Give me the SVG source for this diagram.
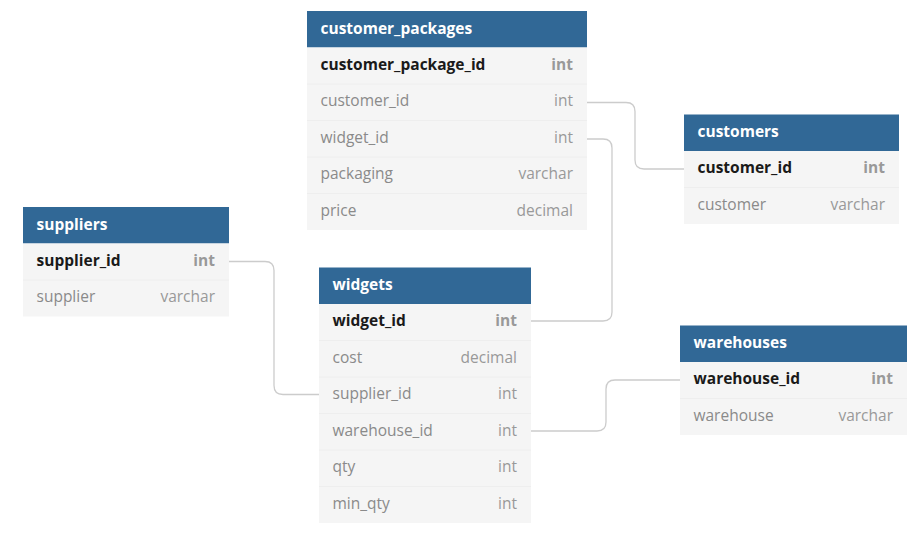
<svg xmlns="http://www.w3.org/2000/svg" width="924" height="536" viewBox="0 0 924 536">
<style>
.hdr{fill:#316896}
.body{fill:#f5f5f5}
.sep{stroke:#eeeeee;stroke-width:1}
.title{font-family:"Open Sans","Liberation Sans",sans-serif;font-size:15.5px;font-weight:bold;fill:#ffffff}
.key{font-family:"Open Sans","Liberation Sans",sans-serif;font-size:15.5px;font-weight:bold;fill:#1a1a1a}
.keyt{font-family:"Open Sans","Liberation Sans",sans-serif;font-size:15.5px;font-weight:bold;fill:#999999;text-anchor:end}
.fld{font-family:"Open Sans","Liberation Sans",sans-serif;font-size:15.5px;fill:#8a8a8a}
.typ{font-family:"Open Sans","Liberation Sans",sans-serif;font-size:15.5px;fill:#999999;text-anchor:end}
.conn{fill:none;stroke:#cccccc;stroke-width:1.3}
</style>
<rect width="924" height="536" fill="#ffffff"/>
<g id="connectors">
<path class="conn" d="M587,102.5 H626 Q635,102.5 635,111.5 V160 Q635,169 644,169 H684"/>
<path class="conn" d="M587,139 H603 Q612,139 612,148 V312 Q612,321 603,321 H531"/>
<path class="conn" d="M229,261.5 H265 Q274,261.5 274,270.5 V385.5 Q274,394.5 283,394.5 H319"/>
<path class="conn" d="M531,431 H597 Q606,431 606,422 V389 Q606,380 615,380 H680"/>
</g>
<g id="customer_packages">
<rect class="hdr" x="307" y="11" width="280" height="36.5"/>
<rect class="body" x="307" y="47.5" width="280" height="182.5"/>
<line class="sep" x1="307" y1="84" x2="587" y2="84"/>
<line class="sep" x1="307" y1="120.5" x2="587" y2="120.5"/>
<line class="sep" x1="307" y1="157" x2="587" y2="157"/>
<line class="sep" x1="307" y1="193.5" x2="587" y2="193.5"/>
<text class="title" x="320.5" y="33.5">customer_packages</text>
<text class="key" x="320.5" y="69.5">customer_package_id</text><text class="keyt" x="573" y="69.5">int</text>
<text class="fld" x="320.5" y="106">customer_id</text><text class="typ" x="573" y="106">int</text>
<text class="fld" x="320.5" y="142.5">widget_id</text><text class="typ" x="573" y="142.5">int</text>
<text class="fld" x="320.5" y="179">packaging</text><text class="typ" x="573" y="179">varchar</text>
<text class="fld" x="320.5" y="215.5">price</text><text class="typ" x="573" y="215.5">decimal</text>
</g>
<g id="customers">
<rect class="hdr" x="684" y="114.5" width="215" height="36.5"/>
<rect class="body" x="684" y="151" width="215" height="73"/>
<line class="sep" x1="684" y1="187.5" x2="899" y2="187.5"/>
<text class="title" x="697.5" y="137">customers</text>
<text class="key" x="697.5" y="173">customer_id</text><text class="keyt" x="885" y="173">int</text>
<text class="fld" x="697.5" y="209.5">customer</text><text class="typ" x="885" y="209.5">varchar</text>
</g>
<g id="suppliers">
<rect class="hdr" x="23" y="207" width="206" height="36.5"/>
<rect class="body" x="23" y="243.5" width="206" height="73"/>
<line class="sep" x1="23" y1="280" x2="229" y2="280"/>
<text class="title" x="36.5" y="229.5">suppliers</text>
<text class="key" x="36.5" y="265.5">supplier_id</text><text class="keyt" x="215" y="265.5">int</text>
<text class="fld" x="36.5" y="302">supplier</text><text class="typ" x="215" y="302">varchar</text>
</g>
<g id="widgets">
<rect class="hdr" x="319" y="267.5" width="212" height="36.5"/>
<rect class="body" x="319" y="304" width="212" height="219"/>
<line class="sep" x1="319" y1="340.5" x2="531" y2="340.5"/>
<line class="sep" x1="319" y1="377" x2="531" y2="377"/>
<line class="sep" x1="319" y1="413.5" x2="531" y2="413.5"/>
<line class="sep" x1="319" y1="450" x2="531" y2="450"/>
<line class="sep" x1="319" y1="486.5" x2="531" y2="486.5"/>
<text class="title" x="332.5" y="290">widgets</text>
<text class="key" x="332.5" y="326">widget_id</text><text class="keyt" x="517" y="326">int</text>
<text class="fld" x="332.5" y="362.5">cost</text><text class="typ" x="517" y="362.5">decimal</text>
<text class="fld" x="332.5" y="399">supplier_id</text><text class="typ" x="517" y="399">int</text>
<text class="fld" x="332.5" y="435.5">warehouse_id</text><text class="typ" x="517" y="435.5">int</text>
<text class="fld" x="332.5" y="472">qty</text><text class="typ" x="517" y="472">int</text>
<text class="fld" x="332.5" y="508.5">min_qty</text><text class="typ" x="517" y="508.5">int</text>
</g>
<g id="warehouses">
<rect class="hdr" x="680" y="325.5" width="227" height="36.5"/>
<rect class="body" x="680" y="362" width="227" height="73"/>
<line class="sep" x1="680" y1="398.5" x2="907" y2="398.5"/>
<text class="title" x="693.5" y="348">warehouses</text>
<text class="key" x="693.5" y="384">warehouse_id</text><text class="keyt" x="893" y="384">int</text>
<text class="fld" x="693.5" y="420.5">warehouse</text><text class="typ" x="893" y="420.5">varchar</text>
</g>
</svg>
